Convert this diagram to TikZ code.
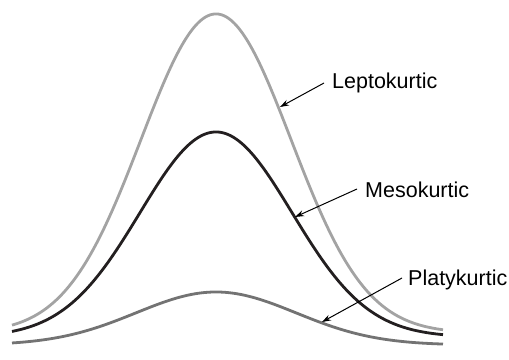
\documentclass[tikz,border=0pt]{standalone}
\usepackage{fontspec}
\setmainfont{Liberation Sans}
\usetikzlibrary{arrows.meta}
\definecolor{lepto}{HTML}{A3A3A3}
\definecolor{meso}{HTML}{231F20}
\definecolor{platy}{HTML}{737373}
\tikzset{
  curve/.style={line width=2.8pt, samples=300, domain=12:443},
  lbl/.style={font=\fontsize{21.5}{24}\selectfont, inner sep=0pt, anchor=west},
  ptr/.style={line width=1pt, -{Stealth[length=9pt,width=6pt]}}
}
\begin{document}
\begin{tikzpicture}[x=1pt,y=-1pt]
\useasboundingbox (0,0) rectangle (509,359);
\draw[curve, lepto] plot (\x, {333 - 319*exp(-0.5*((\x-216)/75)^2)});
\draw[curve, meso] plot (\x, {337 - 205*exp(-0.5*((\x-216)/76)^2)});
\draw[curve, platy] plot (\x, {345 - 53*exp(-0.5*((\x-216)/80)^2)});
\node[lbl] (L) at (332,83) {Leptokurtic};
\node[lbl] (M) at (365,190) {Mesokurtic};
\node[lbl] (P) at (408,280) {Platykurtic};
\coordinate (Lt) at (280,107);
\coordinate (Mt) at (295,217);
\coordinate (Pt) at (322,322);
\draw[ptr] ([xshift=-8pt]L.west) -- (Lt);
\draw[ptr] ([xshift=-8pt,yshift=1pt]M.west) -- (Mt);
\draw[ptr] ([xshift=-6pt,yshift=2pt]P.west) -- (Pt);
\end{tikzpicture}
\end{document}
